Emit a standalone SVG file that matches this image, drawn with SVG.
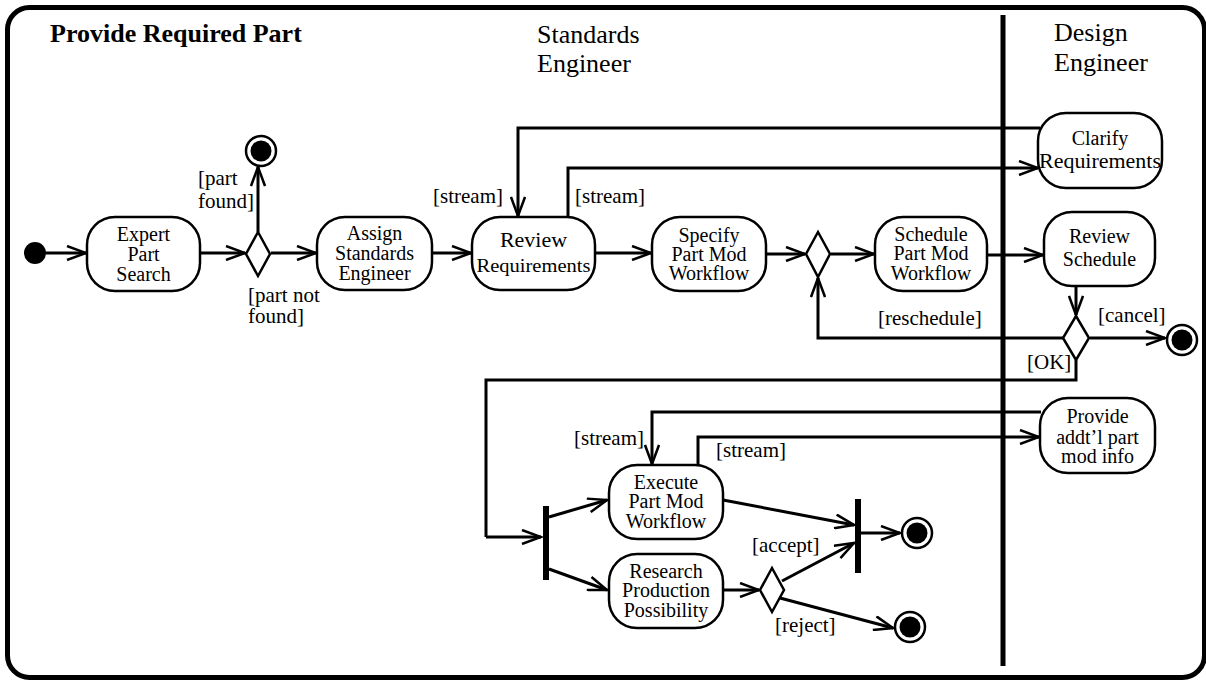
<svg xmlns="http://www.w3.org/2000/svg" width="1206" height="681" viewBox="0 0 1206 681">
<style>
.node{fill:#fff;stroke:#000;stroke-width:2.5}
.t{font-family:"Liberation Serif","Times New Roman",serif;font-size:21px;fill:#000}
.n{font-family:"Liberation Serif","Times New Roman",serif;font-size:20px;fill:#000;text-anchor:middle}
.hdr{font-family:"Liberation Serif","Times New Roman",serif;font-size:26px;fill:#000}
.ttl{font-family:"Liberation Serif","Times New Roman",serif;font-size:26px;font-weight:bold;fill:#000}
.edge{fill:none;stroke:#000;stroke-width:3;marker-end:url(#ah)}
.line{fill:none;stroke:#000;stroke-width:3}
.dia{fill:#fff;stroke:#000;stroke-width:2.5}
.bar{fill:#000}
</style>
<defs>
<marker id="ah" viewBox="0 0 22 16" markerWidth="22" markerHeight="16" refX="20" refY="8" orient="auto" markerUnits="userSpaceOnUse">
<path d="M1,1 L20,8 L1,15" fill="none" stroke="#000" stroke-width="2.5"/>
</marker>
</defs>
<rect width="1206" height="681" fill="#fff"/>
<g id="frame">
<rect x="7.5" y="7.5" width="1197" height="670" rx="22" fill="none" stroke="#000" stroke-width="5"/>
<line x1="1003" y1="15" x2="1003" y2="666" stroke="#000" stroke-width="5"/>
<text class="ttl" x="50" y="42">Provide Required Part</text>
<text class="hdr" x="537" y="43">Standards</text>
<text class="hdr" x="537" y="72">Engineer</text>
<text class="hdr" x="1054" y="41">Design</text>
<text class="hdr" x="1054" y="71">Engineer</text>
</g>
<g id="connectors">
<path class="edge" d="M46,253 L86,253"/>
<path class="edge" d="M200,253 L245,253"/>
<path class="edge" d="M258,232 L258,167"/>
<path class="edge" d="M271,253 L316,253"/>
<path class="edge" d="M432,253 L471,253"/>
<path class="edge" d="M595,253 L651,253"/>
<path class="edge" d="M766,254 L805,254"/>
<path class="edge" d="M831,254 L874,254"/>
<path class="edge" d="M987,255 L1043,255"/>
<path class="edge" d="M1040,128 L518,128 L518,216"/>
<path class="edge" d="M568,217 L568,168 L1038,168"/>
<path class="edge" d="M1076,286 L1076,315"/>
<path class="edge" d="M1090,338 L1165,338"/>
<path class="edge" d="M1063,338 L818,338 L818,278"/>
<path class="line" d="M1076,360 L1076,380 L486,380 L486,537"/>
<path class="edge" d="M486,537 L541,537"/>
<path class="edge" d="M549,517 L607,500"/>
<path class="edge" d="M549,569 L607,590"/>
<path class="edge" d="M723,500 L854,525"/>
<path class="edge" d="M861,533 L900,533"/>
<path class="edge" d="M723,590 L759,590"/>
<path class="edge" d="M782,581 L854,543"/>
<path class="edge" d="M780,598 L893,628"/>
<path class="edge" d="M1041,412 L652,412 L652,464"/>
<path class="edge" d="M698,465 L698,437 L1039,437"/>
</g>
<g id="labels">
<text class="t" x="198" y="185">[part</text>
<text class="t" x="198" y="208">found]</text>
<text class="t" x="248" y="302">[part not</text>
<text class="t" x="248" y="323">found]</text>
<text class="t" x="433" y="203">[stream]</text>
<text class="t" x="575" y="203">[stream]</text>
<text class="t" x="878" y="325">[reschedule]</text>
<text class="t" x="1098" y="322">[cancel]</text>
<text class="t" x="1027" y="369">[OK]</text>
<text class="t" x="574" y="445">[stream]</text>
<text class="t" x="716" y="457">[stream]</text>
<text class="t" x="752" y="552">[accept]</text>
<text class="t" x="775" y="632">[reject]</text>
</g>
<g id="initial"><circle cx="35" cy="253" r="11" fill="#000"/></g>
<g id="final1"><circle cx="261" cy="151" r="15" fill="#fff" stroke="#000" stroke-width="2.5"/><circle cx="261" cy="151" r="10.5" fill="#000"/></g>
<g id="final2"><circle cx="1182" cy="340" r="15" fill="#fff" stroke="#000" stroke-width="2.5"/><circle cx="1182" cy="340" r="10.5" fill="#000"/></g>
<g id="final3"><circle cx="917" cy="533" r="15" fill="#fff" stroke="#000" stroke-width="2.5"/><circle cx="917" cy="533" r="10.5" fill="#000"/></g>
<g id="final4"><circle cx="910" cy="627" r="15" fill="#fff" stroke="#000" stroke-width="2.5"/><circle cx="910" cy="627" r="10.5" fill="#000"/></g>
<g id="dec1"><polygon class="dia" points="258,232 270,254 258,276 246,254"/></g>
<g id="dec2"><polygon class="dia" points="818,232 830,254 818,277 806,254"/></g>
<g id="dec3"><polygon class="dia" points="1076,316 1089,338 1076,360 1063,338"/></g>
<g id="dec4"><polygon class="dia" points="772,568 784,590 772,612 760,590"/></g>
<g id="fork"><rect class="bar" x="543" y="506" width="6" height="74"/></g>
<g id="join"><rect class="bar" x="855" y="499" width="6" height="74"/></g>
<g id="expert"><rect class="node" x="87" y="217" width="113" height="74" rx="28"/>
<text class="n" x="143.5" y="241">Expert</text><text class="n" x="143.5" y="261">Part</text><text class="n" x="143.5" y="281">Search</text></g>
<g id="assign"><rect class="node" x="317" y="217" width="115" height="73" rx="28"/>
<text class="n" x="374.5" y="240">Assign</text><text class="n" x="374.5" y="260">Standards</text><text class="n" x="374.5" y="280">Engineer</text></g>
<g id="reviewReq"><rect class="node" x="472" y="217" width="123" height="73" rx="28"/>
<text class="n" x="533.5" y="247" style="font-size:22px">Review</text><text class="n" x="533.5" y="272" style="font-size:19px" textLength="114" lengthAdjust="spacingAndGlyphs">Requirements</text></g>
<g id="specify"><rect class="node" x="652" y="217" width="114" height="74" rx="28"/>
<text class="n" x="709" y="242">Specify</text><text class="n" x="709" y="261">Part Mod</text><text class="n" x="709" y="280">Workflow</text></g>
<g id="schedule"><rect class="node" x="875" y="217" width="112" height="74" rx="28"/>
<text class="n" x="931" y="241">Schedule</text><text class="n" x="931" y="260">Part Mod</text><text class="n" x="931" y="280">Workflow</text></g>
<g id="reviewSched"><rect class="node" x="1044" y="212" width="111" height="74" rx="28"/>
<text class="n" x="1099.5" y="243">Review</text><text class="n" x="1099.5" y="266">Schedule</text></g>
<g id="clarify"><rect class="node" x="1038" y="113" width="124" height="75" rx="28"/>
<text class="n" x="1100" y="145">Clarify</text><text class="n" x="1100" y="168" style="font-size:21px" textLength="122" lengthAdjust="spacingAndGlyphs">Requirements</text></g>
<g id="execute"><rect class="node" x="609" y="465" width="114" height="74" rx="28"/>
<text class="n" x="666" y="489">Execute</text><text class="n" x="666" y="508">Part Mod</text><text class="n" x="666" y="528">Workflow</text></g>
<g id="research"><rect class="node" x="609" y="554" width="114" height="74" rx="28"/>
<text class="n" x="666" y="578">Research</text><text class="n" x="666" y="597">Production</text><text class="n" x="666" y="617">Possibility</text></g>
<g id="provide"><rect class="node" x="1040" y="398" width="115" height="75" rx="28"/>
<text class="n" x="1097.5" y="423">Provide</text><text class="n" x="1097.5" y="444">addt’l part</text><text class="n" x="1097.5" y="463">mod info</text></g>
</svg>
